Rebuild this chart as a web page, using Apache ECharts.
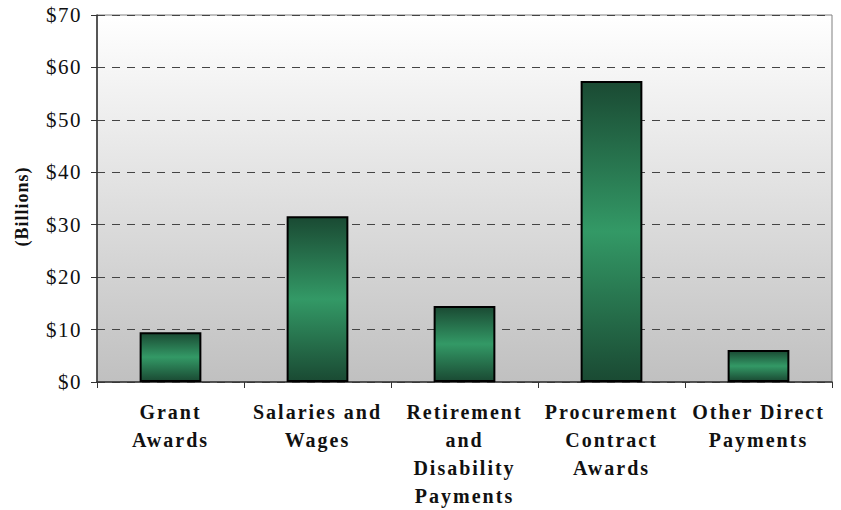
<!DOCTYPE html>
<html><head><meta charset="utf-8">
<script src="https://cdn.jsdelivr.net/npm/echarts@6/dist/echarts.min.js"></script>
<style>
html,body{margin:0;padding:0;background:#fff}#c{width:841px;height:510px}
#c svg text{font-family:"Liberation Serif","Times New Roman",serif !important}
#c svg text[style*="bold"][style*="20px"]{letter-spacing:2px}
#c svg text[style*="bold"][style*="18px"]{letter-spacing:1px}
#c svg text[style*="21px"]{letter-spacing:1.5px}
</style>
</head><body><div id="c"></div>
<script>
const categories = ["Grant\nAwards", "Salaries and\nWages", "Retirement\nand\nDisability\nPayments", "Procurement\nContract\nAwards", "Other Direct\nPayments"];
const values = [9.5, 31.6, 14.5, 57.4, 6.1];
const yTicks = [0, 10, 20, 30, 40, 50, 60, 70];

const chart = echarts.init(document.getElementById('c'), null, {renderer: 'svg'});
const barGrad = new echarts.graphic.LinearGradient(0, 0, 0, 1, [
  {offset: 0, color: '#1a4a33'},
  {offset: 0.5, color: '#339966'},
  {offset: 1, color: '#1a4a33'}
]);
chart.setOption({
  animation: false,
  grid: {
    left: 97, right: 9, top: 15, bottom: 124,
    show: true,
    backgroundColor: new echarts.graphic.LinearGradient(0, 0, 0, 1, [
      {offset: 0, color: '#ffffff'},
      {offset: 1, color: '#c0c0c0'}
    ]),
    borderColor: '#808080', borderWidth: 1
  },
  xAxis: {
    type: 'category',
    data: categories,
    axisLine: {lineStyle: {color: '#333', width: 1.5}},
    axisTick: {show: true, length: 6, alignWithLabel: false, lineStyle: {color: '#333'}},
    axisLabel: {
      interval: 0, margin: 16,
      fontFamily: 'Liberation Serif', fontWeight: 'bold', fontSize: 20,
      color: '#111', lineHeight: 28, align: 'center'
    }
  },
  yAxis: {
    type: 'value', min: 0, max: 70, interval: 10,
    name: '(Billions)', nameLocation: 'middle', nameGap: 66, nameRotate: 90,
    nameTextStyle: {fontFamily: 'Liberation Serif', fontWeight: 'bold', fontSize: 18, color: '#111', padding: [0, 16, 0, 0]},
    axisLine: {show: true, lineStyle: {color: '#333', width: 1.5}},
    axisTick: {show: true, length: 6, lineStyle: {color: '#333'}},
    axisLabel: {
      margin: 15,
      fontFamily: 'Liberation Serif', fontSize: 21, color: '#111',
      formatter: v => yTicks.includes(v) ? '$' + v : ''
    },
    splitLine: {show: true, lineStyle: {color: '#444', type: [8, 7], width: 1}}
  },
  series: [{
    type: 'bar',
    data: values,
    barWidth: '42%',
    itemStyle: {color: barGrad, borderColor: '#000', borderWidth: 2}
  }]
});
</script></body></html>
